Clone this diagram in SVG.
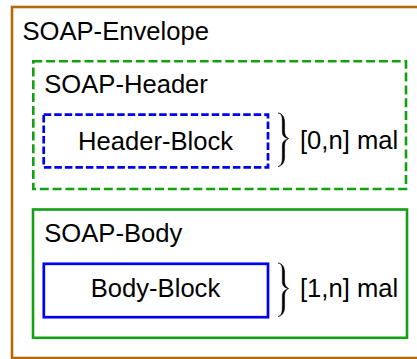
<svg xmlns="http://www.w3.org/2000/svg" width="417" height="359" viewBox="0 0 417 359">
<style>
text{font-family:"Liberation Sans",Arial,sans-serif;font-size:25.6px;fill:#000}
.env{fill:#fff;stroke:#b26a08;stroke-width:2.6}
.grp{fill:none;stroke:#13a013;stroke-width:2.6}
.blk{fill:none;stroke:#0000f0;stroke-width:2.7}
.dg{stroke-dasharray:9 3.8}
.db{stroke-dasharray:7.5 3}
.brace{fill:#000;stroke:#000;stroke-width:0.5;stroke-linejoin:round}
</style>
<rect width="417" height="359" fill="#fff"/>
<g id="envelope">
<rect class="env" x="12" y="7" width="420" height="351"/>
<text x="22.5" y="40">SOAP-Envelope</text>
</g>
<g id="header">
<rect class="grp dg" x="33.3" y="61.3" width="372.7" height="127.7"/>
<text x="44.3" y="93">SOAP-Header</text>
</g>
<g id="header-block">
<rect class="blk db" x="43.7" y="114.7" width="224.3" height="52.6"/>
<text x="155.5" y="150" text-anchor="middle">Header-Block</text>
</g>
<g id="body">
<rect class="grp" x="33" y="209.5" width="374" height="128.3"/>
<text x="44.3" y="241.7">SOAP-Body</text>
</g>
<g id="body-block">
<rect class="blk" x="43.8" y="263.8" width="224.2" height="53.4"/>
<text x="155.5" y="296.7" text-anchor="middle">Body-Block</text>
</g>
<g id="connectors">
<path id="brace-header" class="brace" d="M278,113 C282,113.5 282.3,117 282.3,122 L282.3,131 C282.3,135.5 284,137.8 288.5,138.5 C285.8,139.5 282.3,141 282.3,146 L282.3,157 C282.3,162 281.5,165.8 278,166.5 C282,166 284.6,162.5 284.6,157 L284.6,146 C284.6,142 286,139.8 288.5,138.5 C286,137 284.6,135 284.6,131 L284.6,122 C284.6,117 282,113.2 278,113 Z"/>
<path id="brace-body" class="brace" transform="translate(0,150)" d="M278,113 C282,113.5 282.3,117 282.3,122 L282.3,131 C282.3,135.5 284,137.8 288.5,138.5 C285.8,139.5 282.3,141 282.3,146 L282.3,157 C282.3,162 281.5,165.8 278,166.5 C282,166 284.6,162.5 284.6,157 L284.6,146 C284.6,142 286,139.8 288.5,138.5 C286,137 284.6,135 284.6,131 L284.6,122 C284.6,117 282,113.2 278,113 Z"/>
<text x="300" y="149.3">[0,n] mal</text>
<text x="300" y="296.7">[1,n] mal</text>
</g>
</svg>
